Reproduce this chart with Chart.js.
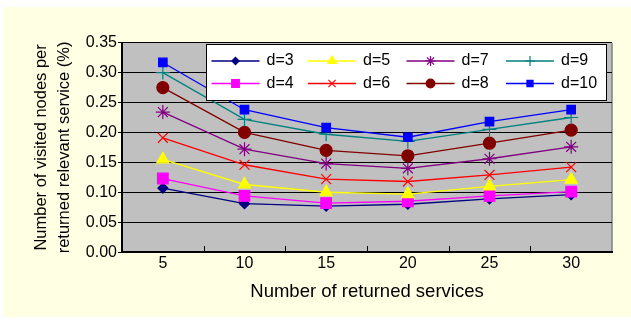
<!DOCTYPE html>
<html>
<head>
<meta charset="utf-8">
<script src="https://cdn.jsdelivr.net/npm/chart.js@4/dist/chart.umd.min.js"></script>
<style>
  html, body { margin: 0; padding: 0; background: #ffffff; }
  #wrap { width: 631px; height: 320px; position: relative; }
</style>
</head>
<body>
<div id="wrap"><canvas id="c" width="631" height="320"></canvas></div>
<script>
const categories = ['5', '10', '15', '20', '25', '30'];
const yTickLabels = ['0.00', '0.05', '0.10', '0.15', '0.20', '0.25', '0.30', '0.35'];
const seriesNames = ['d=3', 'd=4', 'd=5', 'd=6', 'd=7', 'd=8', 'd=9', 'd=10'];

const d3  = [0.107, 0.081, 0.077, 0.080, 0.089, 0.096];
const d4  = [0.123, 0.094, 0.082, 0.085, 0.094, 0.101];
const d5  = [0.155, 0.113, 0.100, 0.097, 0.110, 0.121];
const d6  = [0.191, 0.146, 0.122, 0.118, 0.129, 0.142];
const d7  = [0.234, 0.172, 0.148, 0.140, 0.156, 0.176];
const d8  = [0.275, 0.200, 0.170, 0.161, 0.182, 0.204];
const d9  = [0.300, 0.222, 0.197, 0.185, 0.205, 0.225];
const d10 = [0.317, 0.238, 0.208, 0.192, 0.218, 0.238];

const seriesValues = [d3, d4, d5, d6, d7, d8, d9, d10];
const colors = ['#000080', '#FF00FF', '#FFFF00', '#FF0000', '#800080', '#800000', '#008080', '#0000FF'];
const pointStyles = ['rectRot', 'rect', 'triangle', 'crossRot', 'star', 'circle', 'cross', 'rect'];
const pointRadii = [5, 7.5, 7, 7, 7, 6, 7, 6];

const FONT = "'Liberation Sans', Arial, sans-serif";

const datasets = seriesNames.map((name, i) => ({
  label: name,
  data: seriesValues[i],
  borderColor: colors[i],
  backgroundColor: colors[i],
  pointBackgroundColor: colors[i],
  pointBorderColor: colors[i],
  pointStyle: pointStyles[i],
  pointRadius: pointRadii[i],
  pointBorderWidth: 1.2,
  borderWidth: 1.3,
  tension: 0,
  fill: false,
  order: 100 - i
}));

const bgPlugin = {
  id: 'bgPlugin',
  beforeDraw(chart) {
    const ctx = chart.ctx;
    const a = chart.chartArea;
    ctx.save();
    ctx.fillStyle = '#ffffff';
    ctx.fillRect(0, 0, chart.width, chart.height);
    ctx.fillStyle = '#FFFFE3';
    ctx.fillRect(3, 7, chart.width - 3, chart.height - 10);
    ctx.fillStyle = '#C0C0C0';
    ctx.fillRect(a.left, a.top, a.right - a.left, a.bottom - a.top);
    ctx.strokeStyle = '#808080';
    ctx.lineWidth = 1.5;
    ctx.beginPath();
    ctx.moveTo(a.right, a.top);
    ctx.lineTo(a.right, a.bottom);
    ctx.stroke();
    ctx.restore();
  },
  afterDatasetsDraw(chart) {
    const ctx = chart.ctx;
    const a = chart.chartArea;
    const xs = chart.scales.x;
    // inner tick marks between categories
    ctx.save();
    ctx.strokeStyle = '#000000';
    ctx.lineWidth = 1;
    for (let i = 1; i < categories.length; i++) {
      const x = Math.round((xs.getPixelForValue(i - 1) + xs.getPixelForValue(i)) / 2) + 0.5;
      ctx.beginPath();
      ctx.moveTo(x, a.bottom);
      ctx.lineTo(x, a.bottom - 6);
      ctx.stroke();
    }
    ctx.restore();

    // legend
    const box = { x: 206.5, y: 44.5, w: 400, h: 56 };
    ctx.save();
    ctx.fillStyle = '#ffffff';
    ctx.fillRect(box.x, box.y, box.w, box.h);
    ctx.strokeStyle = '#000000';
    ctx.lineWidth = 1;
    ctx.strokeRect(box.x, box.y, box.w, box.h);
    const colX = [211.5, 308, 406.5, 506];
    const rowY = [61, 83.5];
    const sampleLen = 48;
    ctx.font = '16px ' + FONT;
    ctx.textBaseline = 'middle';
    ctx.textAlign = 'left';
    chart.data.datasets.forEach((ds, i) => {
      const col = Math.floor(i / 2);
      const row = i % 2;
      const x0 = colX[col];
      const y0 = rowY[row];
      ctx.strokeStyle = ds.borderColor;
      ctx.lineWidth = ds.borderWidth;
      ctx.beginPath();
      ctx.moveTo(x0, y0);
      ctx.lineTo(x0 + sampleLen, y0);
      ctx.stroke();
      ctx.fillStyle = ds.pointBackgroundColor;
      ctx.strokeStyle = ds.pointBorderColor;
      ctx.lineWidth = ds.pointBorderWidth;
      const opts = { pointStyle: ds.pointStyle, radius: ds.pointRadius * 0.72, rotation: 0, borderWidth: ds.pointBorderWidth };
      if (Chart.helpers && Chart.helpers.drawPoint) {
        Chart.helpers.drawPoint(ctx, opts, x0 + sampleLen / 2, y0);
      } else {
        ctx.beginPath();
        ctx.arc(x0 + sampleLen / 2, y0, opts.radius, 0, Math.PI * 2);
        ctx.fill();
      }
      ctx.fillStyle = '#000000';
      ctx.fillText(ds.label, x0 + sampleLen + 7, y0);
    });
    ctx.restore();
  }
};

new Chart(document.getElementById('c'), {
  type: 'line',
  data: { labels: categories, datasets: datasets },
  options: {
    responsive: false,
    animation: false,
    devicePixelRatio: 1,
    layout: { padding: { left: 0, right: 19, top: 42.7, bottom: 17 } },
    plugins: { legend: { display: false }, tooltip: { enabled: false }, title: { display: false } },
    scales: {
      x: {
        type: 'category',
        offset: true,
        grid: { display: true, drawOnChartArea: false, drawTicks: false },
        border: { display: true, color: '#000000', width: 2 },
        ticks: { color: '#000000', font: { family: FONT, size: 16 }, padding: 2, maxRotation: 0 },
        title: {
          display: true,
          text: 'Number of returned services',
          color: '#000000',
          font: { family: FONT, size: 18.5 },
          padding: { top: 5.5, bottom: 0 }
        }
      },
      y: {
        min: 0,
        max: 0.35,
        afterFit(scale) { scale.width = 122; },
        ticks: {
          stepSize: 0.05,
          color: '#000000',
          font: { family: FONT, size: 16 },
          padding: 1,
          callback: (v, idx) => yTickLabels[idx]
        },
        grid: { color: '#000000', lineWidth: 1, tickLength: 4, drawTicks: true },
        border: { display: true, color: '#000000', width: 2 },
        title: {
          display: true,
          text: ['Number of visited nodes per', 'returned relevant service (%)'],
          color: '#000000',
          font: { family: FONT, size: 16.5, lineHeight: 1.4 },
          padding: { top: 30, bottom: 0 }
        }
      }
    }
  },
  plugins: [bgPlugin]
});
</script>
</body>
</html>
